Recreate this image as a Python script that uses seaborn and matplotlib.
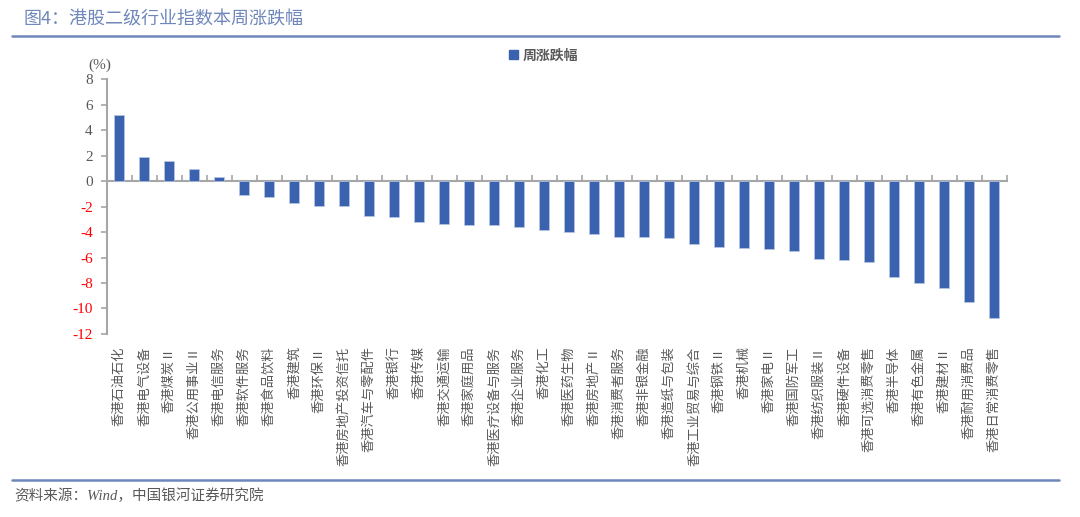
import numpy as np
import pandas as pd
import matplotlib
matplotlib.use("Agg")
import matplotlib.pyplot as plt
from matplotlib.lines import Line2D
from matplotlib.patches import Patch
import seaborn as sns

# data
industries = [
    "香港石油石化", "香港电气设备", "香港煤炭Ⅱ", "香港公用事业Ⅱ", "香港电信服务",
    "香港软件服务", "香港食品饮料", "香港建筑", "香港环保Ⅱ", "香港房地产投资信托",
    "香港汽车与零配件", "香港银行", "香港传媒", "香港交通运输", "香港家庭用品",
    "香港医疗设备与服务", "香港企业服务", "香港化工", "香港医药生物", "香港房地产Ⅱ",
    "香港消费者服务", "香港非银金融", "香港造纸与包装", "香港工业贸易与综合", "香港钢铁Ⅱ",
    "香港机械", "香港家电Ⅱ", "香港国防军工", "香港纺织服装Ⅱ", "香港硬件设备",
    "香港可选消费零售", "香港半导体", "香港有色金属", "香港建材Ⅱ", "香港耐用消费品",
    "香港日常消费零售",
]
weekly_change = [
    5.22, 1.92, 1.58, 0.95, 0.35,
    -1.08, -1.27, -1.70, -1.97, -1.99,
    -2.74, -2.82, -3.18, -3.34, -3.42,
    -3.43, -3.57, -3.83, -4.01, -4.17,
    -4.37, -4.41, -4.48, -4.96, -5.19,
    -5.27, -5.32, -5.48, -6.13, -6.21,
    -6.34, -7.51, -7.98, -8.43, -9.47,
    -10.77,
]
y_ticks = list(range(-12, 9, 2))
series_name = "周涨跌幅"
title = "图4：港股二级行业指数本周涨跌幅"
source = "资料来源：Wind，中国银河证券研究院"

BAR = "#3A62AE"
LINE = "#6F87BA"
GREY = "#A6A6A6"
TXT = "#595959"

sns.set_theme(style="white")
plt.rcParams["font.family"] = ["Noto Sans CJK SC", "DejaVu Sans"]

df = pd.DataFrame({"industry": industries, "change": weekly_change})

fig = plt.figure(figsize=(10.8, 5.17), dpi=100)
ax = fig.add_axes([0.0988, 0.354, 0.8333, 0.493])

sns.barplot(data=df, x="industry", y="change", color=BAR, saturation=1,
            width=0.4, edgecolor="#B9C7E4", linewidth=0.5, ax=ax, zorder=3)

n = len(industries)
ax.set_xlim(-0.5, n - 0.5)
ax.set_ylim(-12, 8)
ax.set_xlabel("")
ax.set_ylabel("")

# rotated labels, hung from the top like the original
ax.set_xticks(range(n))
ax.set_xticklabels(industries, fontsize=9.5, color=TXT, rotation=90)
ax.tick_params(axis="x", length=0, pad=9)

ax.set_yticks(y_ticks)
ax.set_yticklabels([str(v) for v in y_ticks], fontsize=11,
                   family=["Liberation Serif", "DejaVu Serif"])
for lbl, v in zip(ax.get_yticklabels(), y_ticks):
    lbl.set_color("#FF0000" if v < 0 else TXT)
ax.tick_params(axis="y", left=True, length=4, width=1.2, color=GREY, pad=6)

for s in ["top", "right", "bottom"]:
    ax.spines[s].set_visible(False)
ax.spines["left"].set_color(GREY)
ax.spines["left"].set_linewidth(1.5)

# category axis sits on the zero line
zero_frac = (0 - (-12)) / (8 - (-12))
sec = ax.secondary_xaxis(zero_frac)
sec.set_xticks(np.arange(n + 1) - 0.5)
sec.set_xticklabels([])
sec.tick_params(length=4, width=1.2, color=GREY, direction="out")
for s in ["top", "bottom"]:
    sec.spines[s].set_color(GREY)
    sec.spines[s].set_linewidth(1.5)
ax.grid(False)

fig.text(0.092, 0.874, "(%)", ha="center", va="center", fontsize=11, color=TXT,
         family=["Liberation Serif", "DejaVu Serif"])

fig.legend(handles=[Patch(facecolor=BAR, edgecolor=BAR, label=series_name)],
           loc="center", bbox_to_anchor=(0.503, 0.893), frameon=False,
           handlelength=0.7, handleheight=0.7, handletextpad=0.3,
           prop={"size": 10, "weight": "bold"}, labelcolor=TXT)

fig.text(0.022, 0.963, title, ha="left", va="center", fontsize=13, color=LINE)
fig.add_artist(Line2D([0.011, 0.981], [0.931, 0.931], color=LINE, lw=1.8))
fig.add_artist(Line2D([0.011, 0.981], [0.071, 0.071], color=LINE, lw=1.8))
fig.text(0.013, 0.042, source, ha="left", va="center", fontsize=10.5,
         color=TXT, style="italic", family=["Liberation Serif", "Noto Sans CJK SC"])

fig.savefig("out.png", dpi=100)
